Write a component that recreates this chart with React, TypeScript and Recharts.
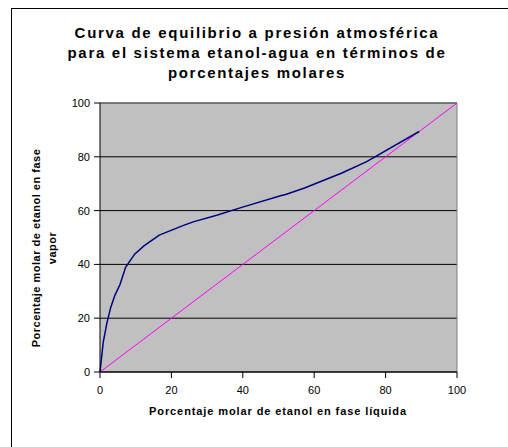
import React from 'react';
import { LineChart, Line, XAxis, YAxis, CartesianGrid, ReferenceLine } from 'recharts';

// Equilibrium curve, ethanol-water, mol %
const liquidX = [0, 0.9, 1.9, 3.0, 4.2, 5.6, 7.2, 9.7, 12.4, 16.6, 23.4, 26.1, 32.7, 39.7, 50.8, 52.0, 57.3, 67.6, 74.7, 89.4];
const vaporY = [0, 11, 18, 24, 28.6, 32.5, 39, 43.8, 47, 50.9, 54.5, 55.8, 58.3, 61.2, 65.6, 66, 68.4, 73.9, 78.2, 89.4];

// 45 degree reference line
const diagX = [0, 100];
const diagY = [0, 100];

const ticks = [0, 20, 40, 60, 80, 100];

const curveData = liquidX.map((x, i) => ({ x, y: vaporY[i] }));
const diagData = diagX.map((x, i) => ({ x, y: diagY[i] }));

const font = '"Liberation Sans", Arial, sans-serif';

const App = () => {
  return (
    <div style={{ position: 'absolute', left: 0, top: 0, width: 508, height: 447, overflow: 'hidden', background: '#fff', fontFamily: font }}>
      {/* outer chart frame */}
      <div style={{ position: 'absolute', left: 11, top: 8, width: 540, height: 480, border: '1px solid #000' }} />

      {/* title */}
      <div
        style={{
          position: 'absolute', left: 37, top: 23, width: 440, textAlign: 'center',
          fontSize: 15, fontWeight: 'bold', lineHeight: '20px', letterSpacing: 1.7, color: '#000',
          whiteSpace: 'nowrap',
        }}
      >
        Curva de equilibrio a presión atmosférica<br />
        para el sistema etanol-agua en términos de<br />
        porcentajes molares
      </div>

      <LineChart
        width={508}
        height={447}
        margin={{ top: 103, right: 51, left: 0, bottom: 45 }}
        style={{ position: 'absolute', left: 0, top: 0 }}
      >
        <CartesianGrid fill="#C0C0C0" vertical={false} stroke="#000" strokeOpacity={1} />
        <XAxis
          type="number"
          dataKey="x"
          domain={[0, 100]}
          ticks={ticks}
          height={30}
          tickSize={6}
          tickMargin={8}
          tick={{ fontSize: 11, fill: '#000', fontFamily: font }}
          axisLine={{ stroke: '#000' }}
          tickLine={{ stroke: '#000' }}
        />
        <YAxis
          type="number"
          dataKey="y"
          domain={[0, 100]}
          ticks={ticks}
          width={100}
          tickSize={6}
          tickMargin={4}
          tick={{ fontSize: 11, fill: '#000', fontFamily: font }}
          axisLine={{ stroke: '#000' }}
          tickLine={{ stroke: '#000' }}
        />
        <ReferenceLine y={100} stroke="#808080" />
        <ReferenceLine x={100} stroke="#808080" />
        <Line
          data={diagData}
          dataKey="y"
          type="linear"
          stroke="#FF00FF"
          strokeWidth={1}
          dot={false}
          isAnimationActive={false}
        />
        <Line
          data={curveData}
          dataKey="y"
          type="linear"
          stroke="#000080"
          strokeWidth={1.5}
          dot={false}
          isAnimationActive={false}
        />
      </LineChart>

      {/* x axis title */}
      <div
        style={{
          position: 'absolute', left: 128, top: 405, width: 300, textAlign: 'center',
          fontSize: 11, fontWeight: 'bold', letterSpacing: 0.9, color: '#000', whiteSpace: 'nowrap',
        }}
      >
        Porcentaje molar de etanol en fase líquida
      </div>

      {/* y axis title */}
      <div
        style={{
          position: 'absolute', left: 44 - 120, top: 248 - 16, width: 240, height: 32,
          transform: 'rotate(-90deg)', textAlign: 'center',
          fontSize: 11, fontWeight: 'bold', lineHeight: '16px', letterSpacing: 0.5, color: '#000', whiteSpace: 'nowrap',
        }}
      >
        Porcentaje molar de etanol en fase<br />
        vapor
      </div>
    </div>
  );
};

export default App;
